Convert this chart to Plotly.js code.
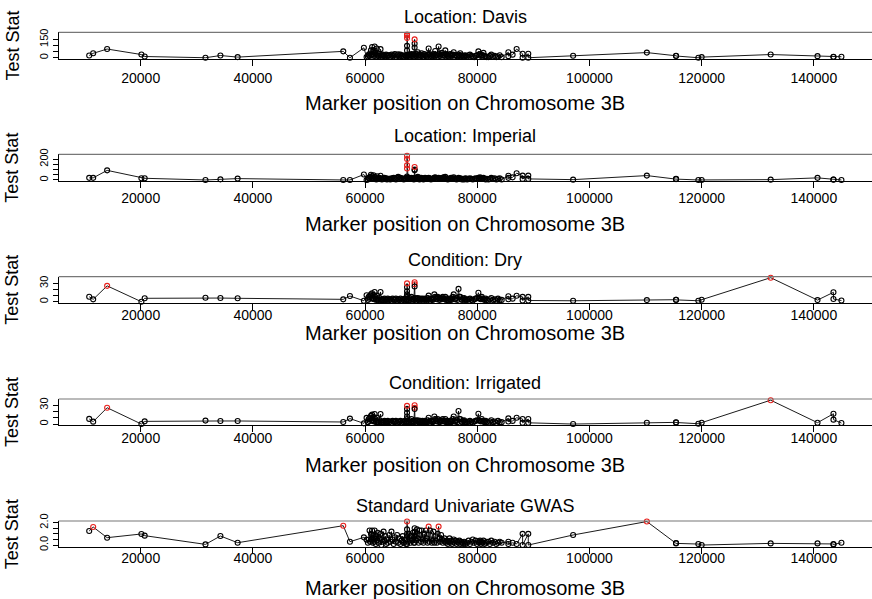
<!DOCTYPE html>
<html><head><meta charset="utf-8">
<script src="https://cdn.plot.ly/plotly-3.0.1.min.js"></script>
<style>html,body{margin:0;padding:0;background:#fff}#chart{width:872px;height:599px}</style>
</head><body><div id="chart"></div>
<script>
// Marker positions on chromosome 3B (shared by all panels)
const positions = [
10817, 11528, 14014, 20124, 20710, 31545, 34210, 37282, 56110, 57300, 59787, 60266,
60500, 60650, 60800, 60900, 61050, 61150, 61250, 61380, 61500, 61600, 61700, 61820, 61900, 62000,
62100, 62250, 62400, 62550, 62750, 62900, 63000, 63150, 63300, 63450, 63600, 63750, 63900, 64050,
64300, 64500, 64700, 64900, 65100, 65300, 65500, 65700, 65900, 66100, 66300, 66500, 66700, 66900, 67100, 67300,
67480, 67480, 67480, 67480, 67480, 67480,
67650, 67800, 67950, 68100, 68250, 68400, 68550, 68700, 68830, 68830, 68830, 68900, 68970,
69100, 69250, 69400, 69550, 69700, 69850, 70000, 70090, 70250, 70400, 70550, 70700, 70850, 71000, 71150, 71330, 71450, 71600, 71750, 71900,
72050, 72200, 72350, 72500, 72650, 72800, 72950, 73108, 73250, 73400, 73550, 73700, 73850, 74000, 74150, 74300, 74450, 74600, 74750, 74900,
75050, 75200, 75350, 75500, 75650, 75800, 75950, 76120, 76300, 76450, 76660, 76800, 76960, 77150, 77300, 77500, 77650, 77800, 77950,
78200, 78450, 78700, 78950, 79200, 79450, 79700, 79950, 80200, 80350, 80500, 80650, 80800, 80950, 81100, 81300, 81500, 81700,
82000, 82250, 82500, 82800, 83100, 83400, 83700, 84000, 84352,
85542, 85542, 86300, 87016, 88082, 88082, 89094, 89094,
97087, 110231, 115435, 115435, 119414, 120000, 132308, 140657, 143499, 143499, 144920
];

const davis = [
18, 36, 71, 26, 10, 0, 18, 5, 52, 0, 81, 5,
10, 25, 15, 35, 60, 20, 88, 30, 62, 15, 92, 40, 25, 10, 75, 20, 15, 30, 70, 20, 10, 25, 15, 20, 10, 25, 15, 20,
20, 10, 25, 15, 22, 30, 10, 20, 28, 12, 25, 15, 18, 10, 20, 12,
20, 60, 97, 162, 181, 190,
15, 25, 10, 20, 30, 15, 25, 10, 84, 115, 150, 30, 20,
15, 30, 45, 20, 10, 25, 15, 36, 20, 10, 30, 20, 15, 10, 25, 76, 30, 25, 15, 10,
20, 30, 15, 55, 25, 20, 10, 92, 30, 15, 25, 40, 20, 25, 15, 60, 30, 20, 15, 10,
25, 30, 20, 15, 25, 45, 20, 20, 15, 10, 25, 15, 36, 20, 15, 8, 10, 20, 15,
10, 20, 25, 15, 10, 5, 15, 20, 52, 25, 30, 15, 21, 20, 40, 15, 10, 5,
5, 15, 25, 10, 15, 5, 10, 20, 5,
45, 13, 25, 71, 32, 0, 32, 0,
16, 42, 16, 14, 0, 5, 26, 13, 8, 6, 8
];

const imperial = [
20, 20, 92, 16, 16, 0, 6, 13, 0, 0, 52, 0,
5, 20, 10, 30, 50, 15, 35, 20, 45, 10, 30, 15, 10, 5, 35, 10, 15, 20, 40, 10, 5, 15, 10, 20, 10, 15, 5, 10,
10, 5, 15, 10, 20, 15, 5, 20, 30, 10, 20, 15, 10, 5, 15, 10,
20, 33, 110, 140, 200, 232,
20, 10, 15, 10, 20, 15, 10, 5, 92, 100, 124, 20, 10,
10, 20, 30, 15, 5, 10, 20, 15, 10, 5, 15, 20, 10, 15, 10, 20, 15, 10, 5, 10,
10, 15, 20, 25, 10, 15, 10, 20, 15, 10, 15, 10, 20, 25, 10, 30, 15, 10, 5, 10,
10, 15, 20, 10, 15, 25, 10, 10, 5, 10, 20, 10, 15, 10, 5, 10, 5, 10, 15,
5, 10, 15, 10, 5, 10, 15, 10, 20, 10, 25, 15, 10, 15, 20, 10, 5, 10,
5, 10, 20, 10, 15, 5, 10, 15, 5,
40, 20, 25, 65, 42, 10, 42, 10,
3, 42, 10, 8, 0, 0, 3, 20, 3, 5, 0
];

const dry = [
8.2, 3.9, 26, 0, 5.6, 6.6, 6, 5.6, 3.9, 9.3, 1.6, 10.5,
3, 8, 5, 10, 12, 6, 14, 5, 11, 4, 16, 8, 5, 3, 10, 4, 3, 6, 16, 3, 2, 4, 3, 5, 3, 4, 3, 5,
3, 4, 2, 5, 4, 3, 5, 2, 4, 3, 5, 2, 4, 3, 5, 3,
3, 8, 12, 17, 23.6, 30,
5, 3, 6, 3, 8, 4, 5, 3, 28.6, 31.8, 25, 6, 4,
2, 5, 6, 3, 4, 5, 3, 4, 5, 4, 3, 5, 4, 3, 6, 10, 4, 2, 5, 4,
3, 5, 12, 8, 5, 4, 8, 6, 3, 5, 6, 4, 8, 5, 4, 8, 3, 5, 3, 2,
5, 4, 3, 5, 8, 12, 4, 4, 6, 3, 21, 8, 8, 4, 3, 5, 6, 3, 4,
3, 4, 5, 3, 2, 4, 5, 6, 14.8, 6, 5, 4, 8, 5, 4, 3, 5, 3,
2, 4, 6, 3, 4, 2, 5, 3, 3,
9, 4, 5, 9.8, 8, 2, 8, 2,
1.6, 2.7, 3.3, 3.0, 1.6, 3.3, 39.4, 2.7, 15.4, 4.4, 2
];

const irrigated = [
8.2, 3.8, 26, 0, 4.3, 5.5, 4.9, 4.9, 3.3, 8.7, 1.1, 9.8,
3, 8, 5, 10, 13, 6, 15, 5, 11, 4, 16, 8, 5, 3, 10, 4, 3, 6, 16, 3, 2, 4, 3, 5, 3, 4, 3, 5,
3, 4, 2, 5, 4, 3, 5, 2, 4, 3, 5, 2, 4, 3, 5, 3,
3, 8, 12, 18, 24, 29,
5, 3, 6, 3, 8, 4, 5, 3, 26, 30, 24, 6, 4,
2, 5, 6, 3, 4, 5, 3, 4, 5, 4, 3, 5, 4, 3, 6, 10, 4, 2, 5, 4,
3, 5, 12, 8, 5, 4, 8, 6, 3, 5, 6, 4, 8, 5, 4, 8, 3, 5, 3, 2,
5, 4, 3, 5, 8, 12, 4, 4, 6, 3, 20.7, 8, 8, 4, 3, 5, 6, 3, 4,
3, 4, 5, 3, 2, 4, 5, 6, 16.4, 6, 5, 4, 8, 5, 4, 3, 5, 3,
2, 4, 6, 3, 4, 2, 5, 3, 3,
9, 4, 5, 10, 8, 2, 8, 2,
0, 2.2, 2.7, 2.5, 0.5, 2.2, 38, 2.2, 16.4, 7, 1.6
];

const gwas = [
1.26, 1.61, 0.66, 0.99, 0.84, 0.06, 0.81, 0.21, 1.73, 0.30, 0.69, 0.48,
0.2, 0.5, 1.3, 0.3, 1.0, 0.5, 1.3, 0.2, 0.9, 0.3, 1.3, 0.6, 0.1, 0.8, 0.4, 1.1, 0.2, 0.6, 1.0, 0.0, 0.5, 0.3, 1.2, 0.4, 0.8, 0.1, 0.5, 0.2,
0.9, 0.3, 1.2, 0.5, 0.1, 0.7, 0.3, 0.9, 0.2, 0.6, 0.1, 0.4, 0.8, 0.2, 0.5, 0.1,
0.1, 0.5, 0.8, 1.0, 1.4, 2.1,
0.3, 1.0, 0.5, 0.2, 0.8, 0.4, 1.1, 0.2, 1.5, 0.8, 0.2, 1.2, 0.5,
0.4, 1.4, 0.6, 0.2, 1.3, 0.9, 0.3, 1.3, 0.5, 0.2, 1.0, 0.4, 1.3, 0.6, 0.2, 1.65, 0.3, 1.3, 0.5, 0.2,
0.4, 1.2, 0.2, 0.8, 0.4, 0.2, 1.0, 1.65, 0.6, 0.3, 0.9, 0.5, 0.2, 0.4, 0.6, 0.3, 0.2, 0.4, 0.1, 0.3,
0.6, 0.2, 0.4, 0.1, 0.3, 0.5, 0.2, 0.4, 0.1, 0.3, 0.2, 0.4, 0.1, 0.3, 0.2, 0.1, 0.3, 0.2, 0.1,
0.2, 0.4, 0.1, 0.3, 0.5, 0.2, 0.4, 0.1, 0.3, 0.2, 0.4, 0.1, 0.3, 0.2, 0.4, 0.1, 0.2, 0.3,
0.3, 0.1, 0.4, 0.2, 0.3, 0.1, 0.2, 0.3, 0.2,
0.3, 0.1, 0.2, 0.1, 1.0, 0.0, 1.0, 0.0,
0.9, 2.1, 0.18, 0.15, 0.09, 0.0, 0.15, 0.15, 0.1, 0.05, 0.21
];

const panelTitles = ["Location: Davis", "Location: Imperial", "Condition: Dry", "Condition: Irrigated", "Standard Univariate GWAS"];
const seriesList = [davis, imperial, dry, irrigated, gwas];
const thresholds = [145, 105, 25.5, 25.5, 1.55];
const xTickValues = [20000, 40000, 60000, 80000, 100000, 120000, 140000];
const xTickLabels = ["20000", "40000", "60000", "80000", "100000", "120000", "140000"];
const yTickValues = [[0, 50, 100, 150], [0, 50, 100, 150, 200], [0, 10, 20, 30], [0, 10, 20, 30], [0, 0.5, 1, 1.5, 2]];
const yTickLabels = [["0", "", "", "150"], ["0", "", "", "", "200"], ["0", "", "", "30"], ["0", "", "", "30"], ["0.0", "", "", "", "2.0"]];
const xAxisTitle = "Marker position on Chromosome 3B";
const yAxisTitle = "Test Stat";

// layout geometry (pixels)
const W = 872, H = 599;
const panelTop = [32.3, 154.3, 276.7, 399, 521];
const panelBot = [58.7, 181, 302.7, 425, 547.3];
const titleY = [17.3, 136, 260, 382.7, 506];
const xTitleY = [103, 224, 333, 465, 588];
const tickStandoff = [0, -2, -7, -6, -8];
const yRanges = [[-8, 208], [-10, 246], [-1.6, 41], [-1.5, 39.9], [-0.2, 2.15]];
const xRange = [5380, 150370];
const FONT = "Liberation Sans, Arial, Helvetica, sans-serif";

const traces = [];
const layout = {
  width: W, height: H, margin: {l: 0, r: 0, t: 0, b: 0},
  paper_bgcolor: "#fff", plot_bgcolor: "#fff", showlegend: false,
  font: {family: FONT, color: "#000"},
  annotations: [], shapes: []
};
const xDom = [58.7 / W, 1];

for (let i = 0; i < 5; i++) {
  const s = i === 0 ? "" : String(i + 1);
  const vals = seriesList[i];
  const colors = vals.map(v => v > thresholds[i] ? "#e8201c" : "#000");
  traces.push({
    x: positions, y: vals, xaxis: "x" + s, yaxis: "y" + s,
    type: "scatter", mode: "lines+markers",
    line: {color: "#000", width: 0.9},
    marker: {symbol: "circle-open", size: 5, color: colors, line: {width: 1.1}},
    hoverinfo: "skip", cliponaxis: false
  });
  layout["xaxis" + s] = {
    domain: xDom, range: xRange, anchor: "y" + s,
    tickmode: "array", tickvals: xTickValues, ticktext: xTickLabels,
    ticks: "outside", ticklen: 6, tickcolor: "#000", tickwidth: 1,
    ticklabelstandoff: tickStandoff[i],
    showline: true, linecolor: "#000", linewidth: 1, mirror: false,
    showgrid: false, zeroline: false, tickfont: {size: 14, family: FONT, color: "#000"},
    fixedrange: true
  };
  layout["yaxis" + s] = {
    domain: [1 - panelBot[i] / H, 1 - panelTop[i] / H], range: yRanges[i], anchor: "x" + s,
    tickmode: "array", tickvals: yTickValues[i], ticktext: yTickLabels[i], tickangle: -90,
    ticks: "outside", ticklen: 5, tickcolor: "#000", tickwidth: 1,
    showline: true, linecolor: "#000", linewidth: 1, mirror: false,
    showgrid: false, zeroline: false, tickfont: {size: 11, family: FONT, color: "#000"},
    fixedrange: true
  };
  // top edge of the plot box (drawn lighter, as in the reference)
  layout.shapes.push({
    type: "line", xref: "paper", yref: "y" + s + " domain",
    x0: xDom[0], x1: 1, y0: 1, y1: 1, line: {color: "#777", width: 1.2}
  });
  const cx = (58.7 + W) / 2 / W;
  layout.annotations.push({
    text: panelTitles[i], xref: "paper", yref: "paper", x: cx, y: 1 - titleY[i] / H,
    xanchor: "center", yanchor: "middle", showarrow: false, font: {size: 18, family: FONT, color: "#000"}
  });
  layout.annotations.push({
    text: xAxisTitle, xref: "paper", yref: "paper", x: cx, y: 1 - xTitleY[i] / H,
    xanchor: "center", yanchor: "middle", showarrow: false, font: {size: 20, family: FONT, color: "#000"}
  });
  layout.annotations.push({
    text: yAxisTitle, xref: "paper", yref: "paper", x: 12 / W, y: 1 - (panelTop[i] + panelBot[i]) / 2 / H,
    xanchor: "center", yanchor: "middle", textangle: -90, showarrow: false, font: {size: 18, family: FONT, color: "#000"}
  });
}

Plotly.newPlot("chart", traces, layout, {staticPlot: true, displayModeBar: false});
</script>
</body></html>
